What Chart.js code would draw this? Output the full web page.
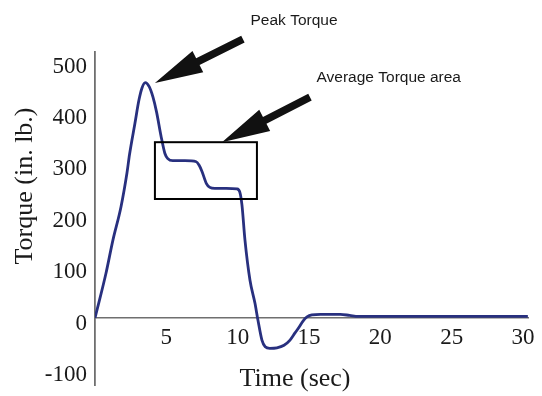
<!DOCTYPE html>
<html><head><meta charset="utf-8">
<script src="https://cdn.jsdelivr.net/npm/chart.js@4/dist/chart.umd.min.js"></script>
<style>html,body{margin:0;padding:0;background:#fff;}#wrap{width:542px;height:396px;}</style>
</head><body><div id="wrap"><canvas id="c" width="542" height="396"></canvas></div>
<script>
// ---- data ----
const timeSec = [0, 0.77, 1.26, 1.82, 2.24, 2.42, 2.8, 3.08, 3.3, 3.52,
  3.8, 4.06, 4.32, 4.62, 4.9, 5.1, 5.45, 6.3, 7.1, 7.3,
  7.5, 7.8, 8.05, 8.4, 9.2, 9.95, 10.15, 10.3, 10.51, 10.86,
  11.21, 11.42, 11.7, 11.93, 12.25, 12.75, 13.25, 13.67, 14.02, 14.3,
  14.58, 14.86, 15.2, 15.8, 16.5, 17.2, 17.85, 18.45, 20, 25,
  30.34];
const torqueInLb = [0, 87, 152, 216, 282, 318, 379, 424, 448, 458,
  450, 430, 400, 355, 320, 310, 306, 306, 304, 297,
  285, 262, 254, 252, 252, 251, 245, 220, 152, 74,
  29, -4, -43, -56, -59, -58, -53, -43, -29, -18,
  -6, 2, 6, 7, 7, 7, 5, 3, 3, 3,
  3];
const xTickValues = [5, 10, 15, 20, 25, 30];
const yTickValues = [-100, 0, 100, 200, 300, 400, 500];
const xTitle = 'Time (sec)';
const yTitle = 'Torque (in. lb.)';
const peakLabel = 'Peak Torque';
const areaLabel = 'Average Torque area';
// average-torque box (data units) and arrow targets (data units)
const boxTime = [4.2, 11.35];
const boxTorque = [231.5, 342];
const peakArrowTarget = [4.2, 457];
const areaArrowTarget = [8.9, 342];

const points = timeSec.map((t, i) => ({x: t, y: torqueInLb[i]}));

const SERIF = '"Liberation Serif", "Times New Roman", Times, serif';
const SANS = '"Liberation Sans", Arial, Helvetica, sans-serif';

function drawArrow(ctx, tx, ty, sx, sy) {
  const dx = tx - sx, dy = ty - sy, L = Math.hypot(dx, dy);
  const ux = dx / L, uy = dy / L, nx = -uy, ny = ux;
  const headLen = 48, headHalf = 12, shaftHalf = 3.8;
  const bx = tx - ux * headLen, by = ty - uy * headLen;
  ctx.beginPath();
  ctx.moveTo(sx + nx * shaftHalf, sy + ny * shaftHalf);
  ctx.lineTo(bx + nx * shaftHalf, by + ny * shaftHalf);
  ctx.lineTo(bx + nx * headHalf, by + ny * headHalf);
  ctx.lineTo(tx, ty);
  ctx.lineTo(bx - nx * headHalf, by - ny * headHalf);
  ctx.lineTo(bx - nx * shaftHalf, by - ny * shaftHalf);
  ctx.lineTo(sx - nx * shaftHalf, sy - ny * shaftHalf);
  ctx.closePath();
  ctx.fill();
}

const annotate = {
  id: 'annotate',
  afterDraw(chart) {
    const {ctx, scales: {x, y}} = chart;
    ctx.save();
    // axis titles
    ctx.fillStyle = '#1a1a1a';
    ctx.font = '26px ' + SERIF;
    ctx.textAlign = 'center';
    ctx.textBaseline = 'alphabetic';
    ctx.fillText(xTitle, 295, 386);
    ctx.save();
    ctx.translate(32, 186);
    ctx.rotate(-Math.PI / 2);
    ctx.fillText(yTitle, 0, 0);
    ctx.restore();
    // box
    const bx0 = x.getPixelForValue(boxTime[0]), bx1 = x.getPixelForValue(boxTime[1]);
    const by0 = y.getPixelForValue(boxTorque[1]), by1 = y.getPixelForValue(boxTorque[0]);
    ctx.strokeStyle = '#000';
    ctx.lineWidth = 2;
    ctx.strokeRect(bx0, by0, bx1 - bx0, by1 - by0);
    // arrows
    ctx.fillStyle = '#111';
    const p1x = x.getPixelForValue(peakArrowTarget[0]), p1y = y.getPixelForValue(peakArrowTarget[1]);
    drawArrow(ctx, p1x, p1y, p1x + 88, p1y - 44);
    const p2x = x.getPixelForValue(areaArrowTarget[0]), p2y = y.getPixelForValue(areaArrowTarget[1]);
    drawArrow(ctx, p2x, p2y, p2x + 88, p2y - 45);
    // labels
    ctx.fillStyle = '#1a1a1a';
    ctx.font = '15.5px ' + SANS;
    ctx.textAlign = 'left';
    ctx.fillText(peakLabel, 250.5, 24.5);
    ctx.fillText(areaLabel, 316.5, 81.5);
    ctx.restore();
  }
};

new Chart(document.getElementById('c'), {
  type: 'line',
  data: {
    datasets: [{
      data: points,
      borderColor: '#28307f',
      borderWidth: 2.8,
      pointRadius: 0,
      fill: false,
      cubicInterpolationMode: 'monotone'
    }]
  },
  options: {
    responsive: false,
    devicePixelRatio: 1,
    animation: false,
    layout: {padding: {left: 0, top: 52, right: 14, bottom: 11}},
    plugins: {legend: {display: false}, tooltip: {enabled: false}},
    scales: {
      x: {
        type: 'linear', min: 0, max: 30.35,
        position: {y: 0},
        grid: {display: false, drawTicks: false},
        border: {display: true, color: '#6f6f6f', width: 1.6},
        afterBuildTicks: s => { s.ticks = xTickValues.map(v => ({value: v})); },
        afterFit: s => { s.paddingLeft = 0; s.paddingRight = 0; },
        ticks: {font: {family: SERIF, size: 23}, color: '#1a1a1a', padding: 6, maxRotation: 0, autoSkip: false}
      },
      y: {
        type: 'linear', min: -130.4, max: 517.5,
        position: 'left',
        grid: {display: false, drawTicks: false},
        border: {display: true, color: '#6f6f6f', width: 1.8},
        afterBuildTicks: s => { s.ticks = yTickValues.map(v => ({value: v})); },
        afterFit: s => { s.width = 95; s.paddingTop = 0; s.paddingBottom = 0; },
        ticks: {font: {family: SERIF, size: 23}, color: '#1a1a1a', padding: 8, labelOffset: 5.5, autoSkip: false}
      }
    }
  },
  plugins: [annotate]
});
</script>
</body></html>
